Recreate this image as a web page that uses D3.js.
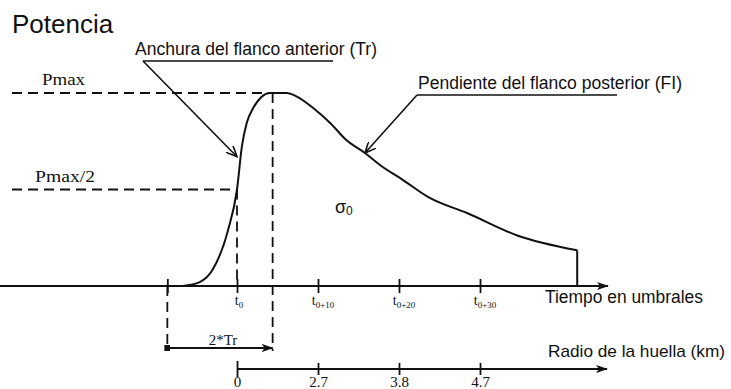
<!DOCTYPE html>
<html>
<head>
<meta charset="utf-8">
<script src="https://cdn.jsdelivr.net/npm/d3@7"></script>
<style>
  body { margin: 0; background: #fff; }
  svg { display: block; }
</style>
</head>
<body>
<svg id="chart" width="731" height="389"></svg>
<script>
// Echo power vs. time, normalised to Pmax (time in threshold gates, t0 = 0)
const waveTime  = [-6.7, -4.6, -3.0, -1.1, 0.0, 0.6, 1.2, 2.0, 3.05, 4.07, 6.14, 7.4, 9.4, 11.5, 13.5, 15.8, 17.65, 20.5, 23.8, 28.4, 34.6, 42.0];
const wavePower = [0, 0.02, 0.085, 0.29, 0.5, 0.722, 0.845, 0.922, 0.981, 1, 1, 0.981, 0.922, 0.845, 0.756, 0.689, 0.627, 0.549, 0.456, 0.378, 0.262, 0.185];

// Time axis ticks and their subscripts (t0, t0+10, ...)
const timeTicks    = [0, 10, 20, 30];
const timeTickSubs = ["0", "0+10", "0+20", "0+30"];
// Footprint radius (km) reached at each of those times
const radiusLabels = ["0", "2.7", "3.8", "4.7"];

// Leading-edge window 2*Tr
const trStart = -8.6;
const trEnd   = 4.4;

// Reference power levels
const levels      = [1, 0.5];
const levelLabels = ["Pmax", "Pmax/2"];

// Extent of the time axis line
const axisStart = -29.3;
const axisEnd   = 45.8;

const svg = d3.select("#chart");
const ink = "#111";
const narrow = "'Liberation Sans Narrow', 'Arial Narrow', 'Liberation Sans', Arial, sans-serif";
const serif  = "'Liberation Serif', 'Times New Roman', serif";

const x = d3.scaleLinear().domain([0, 10]).range([237, 318]);
const y = d3.scaleLinear().domain([0, 1]).range([286, 93]);

// markers
const defs = svg.append("defs");
defs.append("marker").attr("id", "solidArrow")
  .attr("viewBox", "0 0 12 8").attr("refX", 11).attr("refY", 4)
  .attr("markerWidth", 12).attr("markerHeight", 8).attr("markerUnits", "userSpaceOnUse")
  .attr("orient", "auto")
  .append("path").attr("d", "M0,0 L12,4 L0,8 L3,4 Z").attr("fill", ink);
defs.append("marker").attr("id", "openArrow")
  .attr("viewBox", "0 0 12 10").attr("refX", 11).attr("refY", 5)
  .attr("markerWidth", 12).attr("markerHeight", 10).attr("markerUnits", "userSpaceOnUse")
  .attr("orient", "auto")
  .append("path").attr("d", "M0,0 L11,5 L0,10").attr("fill", "none")
  .attr("stroke", ink).attr("stroke-width", 1.6);
defs.append("marker").attr("id", "dot")
  .attr("viewBox", "0 0 6 6").attr("refX", 3).attr("refY", 3)
  .attr("markerWidth", 6).attr("markerHeight", 6).attr("markerUnits", "userSpaceOnUse")
  .append("rect").attr("width", 6).attr("height", 6).attr("fill", ink);

// title
svg.append("text").attr("x", 12).attr("y", 33)
  .attr("font-family", "'Liberation Sans', Arial, sans-serif").attr("font-size", 26)
  .attr("fill", ink).text("Potencia");

// dashed reference lines
const dash = "10,6";
const guides = svg.append("g").attr("stroke", ink).attr("stroke-width", 1.8)
  .attr("stroke-dasharray", dash).attr("fill", "none");
const levelEnds = [x(trEnd), x(0)];
levels.forEach((lv, i) => {
  guides.append("line").attr("x1", 12).attr("x2", levelEnds[i])
    .attr("y1", y(lv)).attr("y2", y(lv));
});
guides.append("line").attr("x1", x(0)).attr("x2", x(0)).attr("y1", y(0.5)).attr("y2", y(0));
guides.append("line").attr("x1", x(trEnd)).attr("x2", x(trEnd)).attr("y1", y(1)).attr("y2", 351);
guides.append("line").attr("x1", x(trStart)).attr("x2", x(trStart)).attr("y1", y(0)).attr("y2", 351);

// level labels
const levelLabelPos = [{x: 42, y: 85, w: 43}, {x: 35, y: 182, w: 60}];
levels.forEach((lv, i) => {
  svg.append("text").attr("x", levelLabelPos[i].x).attr("y", levelLabelPos[i].y)
    .attr("font-family", serif).attr("font-size", 16).attr("fill", ink)
    .attr("textLength", levelLabelPos[i].w).attr("lengthAdjust", "spacingAndGlyphs")
    .text(levelLabels[i]);
});

// time axis
svg.append("line").attr("x1", x(axisStart)).attr("x2", x(axisEnd))
  .attr("y1", y(0)).attr("y2", y(0))
  .attr("stroke", ink).attr("stroke-width", 2).attr("marker-end", "url(#solidArrow)");

const tAxis = svg.append("g").attr("transform", `translate(0,${y(0)})`)
  .call(d3.axisBottom(x).tickValues([trStart, ...timeTicks]).tickSize(7).tickFormat(""));
tAxis.select(".domain").remove();
tAxis.selectAll(".tick line").attr("y1", -7).attr("stroke", ink).attr("stroke-width", 1.8);

const tLabels = svg.append("g").attr("font-family", serif).attr("fill", ink);
timeTicks.forEach((t, i) => {
  const txt = tLabels.append("text").attr("x", x(t) + (i === 0 ? 2 : 5)).attr("y", 305)
    .attr("text-anchor", "middle").attr("font-size", 14);
  txt.append("tspan").text("t");
  txt.append("tspan").attr("font-size", 9).attr("dy", 3).text(timeTickSubs[i]);
});

svg.append("text").attr("x", 545).attr("y", 303)
  .attr("font-family", narrow).attr("font-size", 18).attr("fill", ink)
  .attr("textLength", 158).attr("lengthAdjust", "spacingAndGlyphs")
  .text("Tiempo en umbrales");

// waveform
const line = d3.line().x((d, i) => x(waveTime[i])).y(d => y(d)).curve(d3.curveMonotoneX);
svg.append("path").datum(wavePower).attr("d", line)
  .attr("fill", "none").attr("stroke", ink).attr("stroke-width", 2);
const lastT = waveTime[waveTime.length - 1];
svg.append("line").attr("x1", x(lastT)).attr("x2", x(lastT))
  .attr("y1", y(wavePower[wavePower.length - 1])).attr("y2", y(0))
  .attr("stroke", ink).attr("stroke-width", 2);

// backscatter coefficient label
const sig = svg.append("text").attr("x", 335).attr("y", 213)
  .attr("font-family", "'Liberation Sans', Arial, sans-serif").attr("fill", ink).attr("font-size", 18);
sig.append("tspan").text("σ");
sig.append("tspan").attr("font-size", 12).attr("dy", 2).text("0");

// 2*Tr span
svg.append("line").attr("x1", x(trStart)).attr("x2", x(trEnd)).attr("y1", 348).attr("y2", 348)
  .attr("stroke", ink).attr("stroke-width", 1.8)
  .attr("marker-start", "url(#dot)").attr("marker-end", "url(#solidArrow)");
svg.append("text").attr("x", (x(trStart) + x(trEnd)) / 2 + 3).attr("y", 345)
  .attr("text-anchor", "middle").attr("font-family", serif).attr("font-size", 15)
  .attr("fill", ink).text("2*Tr");

// footprint radius axis
const rY = 369;
svg.append("line").attr("x1", x(0)).attr("x2", x(axisEnd) - 1)
  .attr("y1", rY).attr("y2", rY)
  .attr("stroke", ink).attr("stroke-width", 2).attr("marker-end", "url(#solidArrow)");
const rAxis = svg.append("g").attr("transform", `translate(0,${rY})`)
  .call(d3.axisBottom(x).tickValues(timeTicks).tickSize(6)
    .tickFormat((d, i) => radiusLabels[i]));
rAxis.select(".domain").remove();
rAxis.selectAll(".tick line").attr("y1", d => d === 0 ? -8 : -6).attr("y2", d => d === 0 ? 8 : 6)
  .attr("stroke", ink).attr("stroke-width", 1.8);
rAxis.selectAll(".tick text").attr("y", 18).attr("dy", 0)
  .attr("font-family", serif).attr("font-size", 15).attr("fill", ink);

svg.append("text").attr("x", 548).attr("y", 357)
  .attr("font-family", narrow).attr("font-size", 17).attr("fill", ink)
  .attr("textLength", 177).attr("lengthAdjust", "spacingAndGlyphs")
  .text("Radio de la huella (km)");

// callouts
const callouts = [
  {text: "Anchura del flanco anterior (Tr)", tx: 135, ty: 55, w: 242,
   u1: 143, u2: 333, uy: 61, t: 0.0, p: 0.67},
  {text: "Pendiente del flanco posterior (FI)", tx: 418, ty: 89, w: 264,
   u1: 417, u2: 617, uy: 95, t: 15.8, p: 0.689}
];
callouts.forEach(c => {
  svg.append("text").attr("x", c.tx).attr("y", c.ty)
    .attr("font-family", narrow).attr("font-size", 18).attr("fill", ink)
    .attr("textLength", c.w).attr("lengthAdjust", "spacingAndGlyphs").text(c.text);
  svg.append("line").attr("x1", c.u1).attr("x2", c.u2).attr("y1", c.uy).attr("y2", c.uy)
    .attr("stroke", ink).attr("stroke-width", 1.6);
  svg.append("line").attr("x1", c.u1).attr("y1", c.uy).attr("x2", x(c.t)).attr("y2", y(c.p))
    .attr("stroke", ink).attr("stroke-width", 1.6).attr("marker-end", "url(#openArrow)");
});
</script>
</body>
</html>
